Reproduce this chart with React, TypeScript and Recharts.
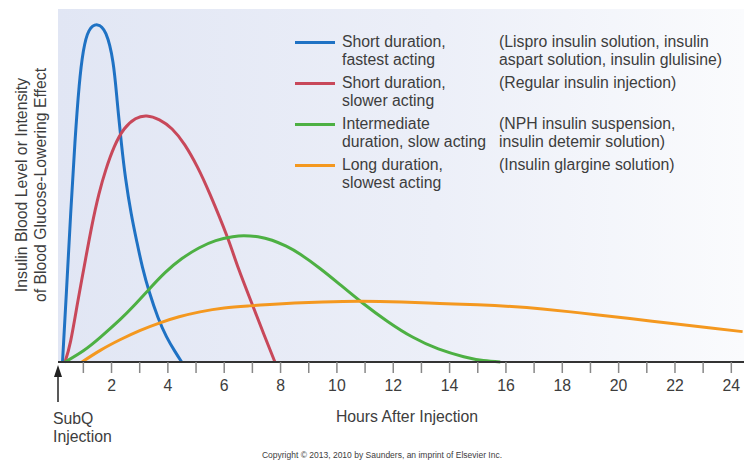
import { CartesianGrid, Customized, Line, LineChart, XAxis, YAxis } from "recharts"

// hours after injection
const hourTicks = [1, 2, 3, 4, 5, 6, 7, 8, 9, 10, 11, 12, 13, 14, 15, 16, 17, 18, 19, 20, 21, 22, 23, 24]

// relative blood level / effect
const lisproHours = [0.26, 0.4, 0.55, 0.7, 0.85, 1.0, 1.2, 1.5, 1.8, 2.05, 2.2, 2.35, 2.5, 2.7, 2.9, 3.1, 3.35, 3.65, 3.95, 4.25, 4.49]
const lisproLevel = [0, 20, 42, 62, 78, 88, 93.8, 95.5, 93, 85, 74, 62, 52, 42, 34, 26.8, 19.6, 12.6, 7.2, 3, 0]

const regularHours = [0.35, 0.55, 0.8, 1.04, 1.3, 1.55, 1.8, 2.1, 2.45, 2.85, 3.25, 3.7, 4.15, 4.6, 5.05, 5.5, 6.1, 6.5, 7.0, 7.4, 7.8]
const regularLevel = [0, 6, 17, 27.5, 38.5, 47.5, 54.5, 61, 66, 68.9, 69.7, 68.6, 66, 61.5, 55.2, 47.4, 35.6, 26.6, 16.2, 8, 0]

const nphHours = [0.35, 1.0, 1.6, 2.3, 2.8, 3.31, 3.9, 4.5, 5.1, 5.7, 6.3, 6.7, 7.2, 7.7, 8.2, 8.7, 9.4, 10.1, 10.9, 11.8, 12.7, 13.6, 14.5, 15.2, 15.8]
const nphLevel = [0, 3.2, 7, 12, 16, 20.4, 25.3, 29.3, 32.3, 34.4, 35.5, 35.8, 35.5, 34.5, 32.8, 30.5, 26.5, 22, 16.8, 11.5, 7, 3.7, 1.5, 0.4, 0]

const glargineHours = [0.95, 1.6, 2.3, 3.0, 3.72, 4.4, 5.14, 6.0, 6.9, 7.62, 8.5, 9.5, 10.8, 12.3, 13.65, 15.0, 16.2, 17.3, 18.3, 19.2, 20.4, 21.9, 23.2, 24.4]
const glargineLevel = [0, 3.3, 6.3, 8.9, 11.1, 12.8, 14.2, 15.3, 15.9, 16.3, 16.7, 17, 17.2, 17, 16.6, 16.2, 15.7, 15.0, 14.2, 13.4, 12.3, 10.9, 9.7, 8.6]

const seriesNames = ["Short duration, fastest acting", "Short duration, slower acting", "Intermediate duration, slow acting", "Long duration, slowest acting"]
const seriesLines = [
  ["Short duration,", "fastest acting"],
  ["Short duration,", "slower acting"],
  ["Intermediate", "duration, slow acting"],
  ["Long duration,", "slowest acting"],
]
const seriesProducts = [
  ["(Lispro insulin solution, insulin", "aspart solution, insulin glulisine)"],
  ["(Regular insulin injection)", ""],
  ["(NPH insulin suspension,", "insulin detemir solution)"],
  ["(Insulin glargine solution)", ""],
]
const seriesColors = ["#1f72c4", "#c8485a", "#4db043", "#f4981f"]

const toPoints = (hours: number[], level: number[]) => hours.map((hour, i) => ({ hour, level: level[i] }))

const series = [
  toPoints(lisproHours, lisproLevel),
  toPoints(regularHours, regularLevel),
  toPoints(nphHours, nphLevel),
  toPoints(glargineHours, glargineLevel),
]

const textColor = "#3d3d3d"

function InsulinLegend() {
  return (
    <div style={{ position: "absolute", left: 295, top: 33, color: textColor, fontSize: 15.8, lineHeight: "18px" }}>
      {seriesLines.map((lines, i) => (
        <div key={i} style={{ display: "flex", height: 41 }}>
          <div style={{ width: 40, height: 3, marginTop: 8, background: seriesColors[i] }} />
          <div style={{ width: 157, paddingLeft: 7 }}>
            <div>{lines[0]}</div>
            <div>{lines[1]}</div>
          </div>
          <div>
            <div>{seriesProducts[i][0]}</div>
            <div>{seriesProducts[i][1]}</div>
          </div>
        </div>
      ))}
    </div>
  )
}

function Annotations() {
  return (
    <g fill={textColor} fontSize={15.8}>
      <text x={21} y={185} transform="rotate(-90 21 185)" textAnchor="middle" dominantBaseline="central">
        Insulin Blood Level or Intensity
      </text>
      <text x={40} y={185} transform="rotate(-90 40 185)" textAnchor="middle" dominantBaseline="central">
        of Blood Glucose-Lowering Effect
      </text>
      <text x={407} y={416} textAnchor="middle" dominantBaseline="central">
        Hours After Injection
      </text>
      <text x={53} y={418} dominantBaseline="central">SubQ</text>
      <text x={53} y={436} dominantBaseline="central">Injection</text>
      <line x1={58} y1={402} x2={58} y2={374} stroke="#222" strokeWidth={1.5} />
      <polygon points="58,365 54,377 62,377" fill="#222" />
      <text x={382} y={455} textAnchor="middle" dominantBaseline="central" fontSize={8.5}>
        Copyright © 2013, 2010 by Saunders, an imprint of Elsevier Inc.
      </text>
    </g>
  )
}

export default function App() {
  return (
    <div style={{ position: "absolute", left: 0, top: 0, fontFamily: "'Liberation Sans', Arial, sans-serif" }}>
      <LineChart width={744} height={461} margin={{ top: 9, right: 0, bottom: 0, left: 58 }}>
        <defs>
          <linearGradient id="plotBg" x1="0" y1="0" x2="1" y2="0">
            <stop offset="0%" stopColor="#e1e6f4" />
            <stop offset="55%" stopColor="#eceff8" />
            <stop offset="100%" stopColor="#fafbfd" />
          </linearGradient>
        </defs>
        <CartesianGrid horizontal={false} vertical={false} fill="url(#plotBg)" />
        <XAxis
          type="number"
          dataKey="hour"
          domain={[0.1, 24.45]}
          allowDataOverflow
          ticks={hourTicks}
          interval={0}
          tickFormatter={(v: number) => (v % 2 === 0 ? String(v) : "")}
          height={99}
          tickSize={11}
          tickMargin={7}
          axisLine={{ stroke: "#333", strokeWidth: 2 }}
          tickLine={{ stroke: "#888", strokeWidth: 1.5 }}
          tick={{ fill: textColor, fontSize: 15.8 }}
        />
        <YAxis
          type="number"
          domain={[0, 100]}
          width={0}
          tick={false}
          tickLine={false}
          axisLine={{ stroke: "#333", strokeWidth: 2 }}
        />
        {series.map((points, i) => (
          <Line
            key={i}
            data={points}
            dataKey="level"
            name={seriesNames[i]}
            type="natural"
            stroke={seriesColors[i]}
            strokeWidth={3}
            dot={false}
            activeDot={false}
            isAnimationActive={false}
          />
        ))}
        <Customized component={Annotations} />
      </LineChart>
      <InsulinLegend />
    </div>
  )
}
